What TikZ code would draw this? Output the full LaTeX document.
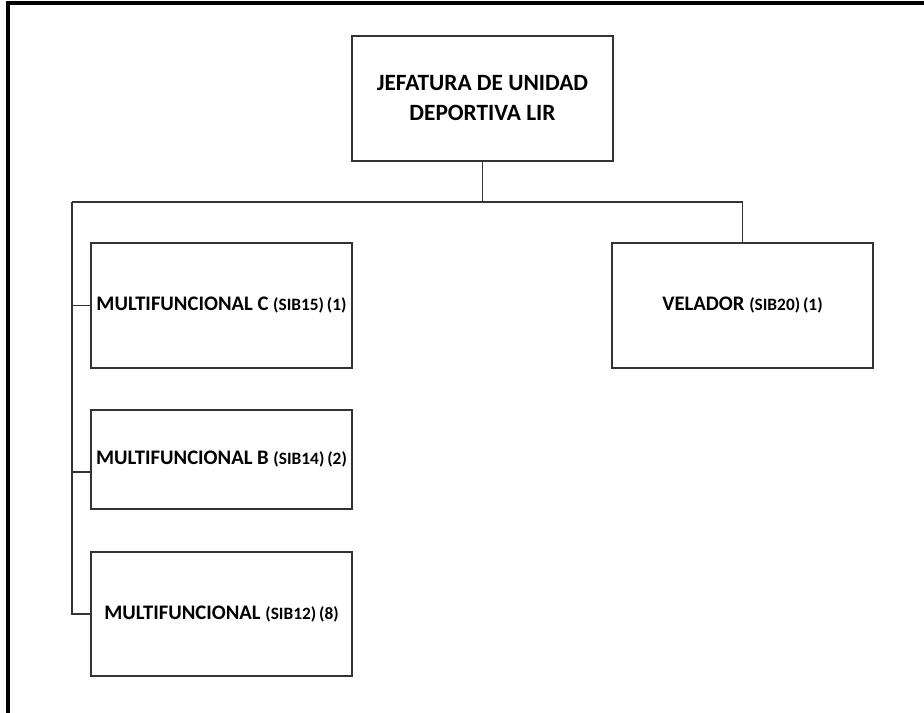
\documentclass[tikz,border=0pt]{standalone}
\usepackage{fontspec}
\setmainfont{Carlito}
\begin{document}
\begin{tikzpicture}%
	[	x=0.75pt,
	y=-0.75pt,
	frame/.style={color=black, line width=2.6pt},
	link/.style={color=black!80, line width=1.2pt},
	unit/.style={draw=black!80, line width=1.2pt, minimum width=195.75pt, inner sep=0pt, align=center, font=\fontsize{15.5}{22}\selectfont\bfseries},
	tall/.style={unit, minimum height=93.75pt},
	short/.style={unit, minimum height=74.25pt},
	tag/.style={font=\fontsize{13}{15}\selectfont}]

\useasboundingbox (0,0) rectangle (924,713);

\draw[frame] (8,713) -- (8,3) -- (924,3);

\node[tall,font=\fontsize{17.5}{22.5}\selectfont\bfseries] (jefe) at (482.5,98.5) {JEFATURA DE UNIDAD\\DEPORTIVA LIR};
\node[tall] (velador) at (742.5,305.5) {\raisebox{-3pt}{VELADOR {\fontsize{13}{15}\selectfont(SIB20)\,(1)}}};
\node[tall] (mfc) at (221.5,305.5) {\raisebox{-3pt}{MULTIFUNCIONAL C {\fontsize{13}{15}\selectfont(SIB15)\,(1)}}};
\node[short] (mfb) at (221.5,459.5) {\raisebox{-6pt}{MULTIFUNCIONAL B {\fontsize{13}{15}\selectfont(SIB14)\,(2)}}};
\node[tall,minimum height=93pt] (mf) at (221.5,614) {\raisebox{-6pt}{MULTIFUNCIONAL {\fontsize{13}{15}\selectfont(SIB12)\,(8)}}};

\coordinate (barl) at (72,202);
\coordinate (tapb) at (72,472);

\draw[link] (jefe.south) -- (jefe.south |- barl);
\draw[link] (barl) -| (velador.north);
\draw[link] (barl) |- (mf.west);
\draw[link] (barl |- mfc.west) -- (mfc.west);
\draw[link] (tapb) -- (tapb -| mfb.west);
\end{tikzpicture}
\end{document}
